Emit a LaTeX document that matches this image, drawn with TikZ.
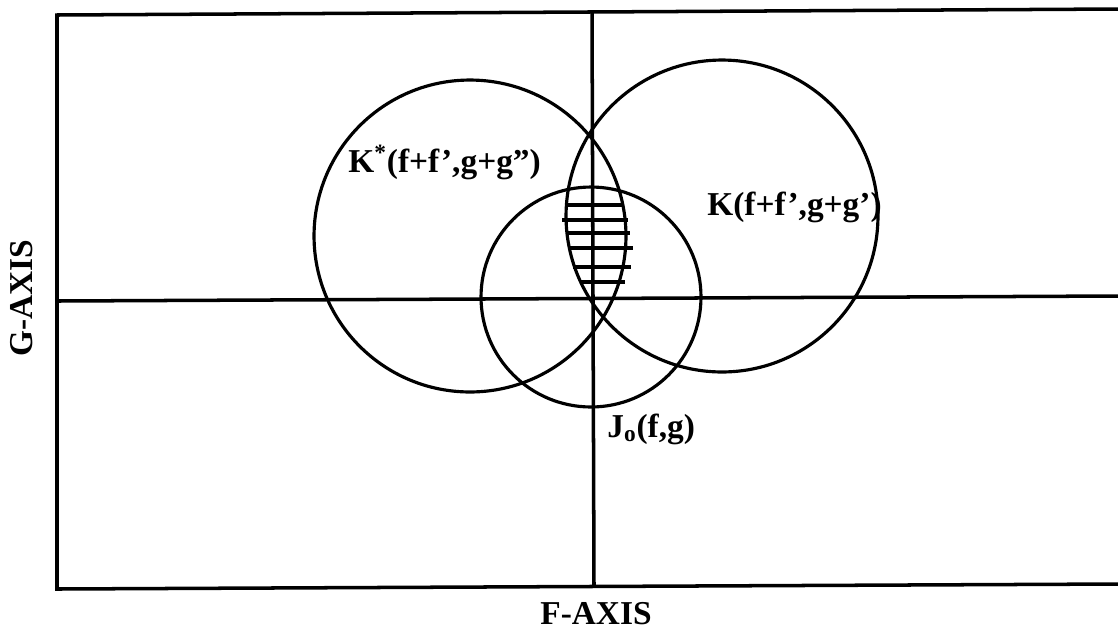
\documentclass[tikz,border=0pt]{standalone}
\usepackage{fontspec}
\setmainfont{Liberation Serif}
\begin{document}
\begin{tikzpicture}[
x=0.02cm, y=-0.02cm,
frame/.style={line width=2pt},
ring/.style={circle,draw,line width=1.8pt,inner sep=0pt},
hatch/.style={line width=1.8pt},
lbl/.style={font=\bfseries\fontsize{19}{21}\selectfont,inner sep=0pt}
]
\useasboundingbox (0,0) rectangle (1118,630);
% frame and axes
\coordinate (tl) at (57,15);
\coordinate (tr) at (1118,9);
\coordinate (bl) at (57,589);
\coordinate (br) at (1118,584);
\coordinate (ftop) at (592,12);
\coordinate (fbot) at (594,587);
\coordinate (gleft) at (57,301);
\coordinate (gright) at (1118,296);
\draw[frame] (tr) -- (tl) -- (bl) -- (br);
\draw[frame] (ftop) -- (fbot);
\draw[frame] (gleft) -- (gright);
% circles
\node (kstar)[ring,minimum size=6.24cm] at (470,236) {};
\node (k)[ring,minimum size=6.24cm] at (722,216) {};
\node (jo)[ring,minimum size=4.4cm] at (591,297) {};
% hatching
\foreach \y/\a/\b in {205/567/623, 220/562/628, 233/568/630,
                      248/569/633, 267/573/631, 282/580/625}
  \draw[hatch] (\a,\y) -- (\b,\y);
% labels
\node (kstarlbl)[lbl,anchor=base west] at (348,172) {K\textsuperscript{*}(f+f’,g+g”)};
\node (klbl)[lbl,anchor=base west] at (707,215) {K(f+f’,g+g’)};
\node (jolbl)[lbl,anchor=base west] at (607,437) {J\textsubscript{o}(f,g)};
\node (faxis)[lbl] at (596,614) {F-AXIS};
\node (gaxis)[lbl,rotate=90] at (22,298) {G-AXIS};
\end{tikzpicture}
\end{document}
